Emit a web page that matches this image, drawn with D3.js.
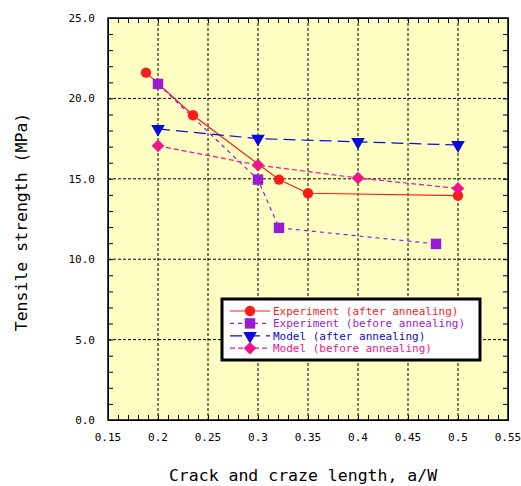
<!DOCTYPE html>
<html><head><meta charset="utf-8">
<script src="https://cdn.jsdelivr.net/npm/d3@7"></script>
<style>body{margin:0;background:#fff}svg{display:block}</style>
</head><body>
<svg id="c" width="521" height="486"></svg>
<script>
const expAfterX = [0.188, 0.235, 0.321, 0.35, 0.5];
const expAfterY = [21.6, 18.95, 14.95, 14.1, 13.95];
const expBeforeX = [0.2, 0.3, 0.321, 0.478];
const expBeforeY = [20.9, 14.95, 11.95, 10.95];
const modAfterX = [0.2, 0.3, 0.4, 0.5];
const modAfterY = [18.1, 17.5, 17.3, 17.1];
const modBeforeX = [0.2, 0.3, 0.4, 0.5];
const modBeforeY = [17.05, 15.85, 15.05, 14.4];
const seriesNames = ["Experiment (after annealing)", "Experiment (before annealing)", "Model (after annealing)", "Model (before annealing)"];
const xTicks = [0.15, 0.2, 0.25, 0.3, 0.35, 0.4, 0.45, 0.5, 0.55];
const yTicks = [0, 5, 10, 15, 20, 25];
const xTitle = "Crack and craze length, a/W";
const yTitle = "Tensile strength (MPa)";

const svg = d3.select("#c");
const L = 108, R = 508, T = 18, B = 420;
const x = d3.scaleLinear().domain([0.15, 0.55]).range([L, R]);
const y = d3.scaleLinear().domain([0, 25]).range([B, T]);
const font = "'DejaVu Sans Mono', 'Liberation Mono', monospace";

svg.append("rect").attr("x", L).attr("y", T).attr("width", R - L).attr("height", B - T).attr("fill", "#FFFFC4");

// grid
const g = svg.append("g");
xTicks.slice(1, -1).forEach(v => g.append("line").attr("x1", x(v)).attr("x2", x(v)).attr("y1", T).attr("y2", B)
  .attr("stroke", "#000").attr("stroke-width", 1).attr("stroke-dasharray", "3,2"));
yTicks.slice(1, -1).forEach(v => g.append("line").attr("y1", y(v)).attr("y2", y(v)).attr("x1", L).attr("x2", R)
  .attr("stroke", "#000").attr("stroke-width", 1).attr("stroke-dasharray", "3,2"));

// axes with inward minor ticks
const xMinor = d3.range(0.15, 0.5501, 0.01);
const yMinor = d3.range(0, 25.01, 1);
svg.append("g").attr("transform", `translate(0,${B})`)
  .call(d3.axisBottom(x).tickValues(xMinor).tickSize(-5).tickFormat(""))
  .call(a => a.selectAll("path,line").attr("stroke", "#000"));
svg.append("g").attr("transform", `translate(0,${T})`)
  .call(d3.axisTop(x).tickValues(xMinor).tickSize(-5).tickFormat(""))
  .call(a => a.selectAll("path,line").attr("stroke", "#000"));
svg.append("g").attr("transform", `translate(${L},0)`)
  .call(d3.axisLeft(y).tickValues(yMinor).tickSize(-5).tickFormat(""))
  .call(a => a.selectAll("path,line").attr("stroke", "#000"));
svg.append("g").attr("transform", `translate(${R},0)`)
  .call(d3.axisRight(y).tickValues(yMinor).tickSize(-5).tickFormat(""))
  .call(a => a.selectAll("path,line").attr("stroke", "#000"));

svg.append("rect").attr("x", L).attr("y", T).attr("width", R - L).attr("height", B - T)
  .attr("fill", "none").attr("stroke", "#000").attr("stroke-width", 1.5);

// tick labels
svg.append("g").selectAll("text").data(xTicks).join("text")
  .attr("x", d => x(d)).attr("y", B + 21).attr("text-anchor", "middle")
  .attr("font-family", font).attr("font-size", 11).text(d => d3.format("")(d));
svg.append("g").selectAll("text").data(yTicks).join("text")
  .attr("x", L - 13).attr("y", d => y(d) + 4).attr("text-anchor", "end")
  .attr("font-family", font).attr("font-size", 11).text(d => d.toFixed(1));

svg.append("text").attr("x", 303).attr("y", 481).attr("text-anchor", "middle")
  .attr("font-family", font).attr("font-size", 16.5).text(xTitle);
svg.append("text").attr("transform", "translate(27,222) rotate(-90)").attr("text-anchor", "middle")
  .attr("font-family", font).attr("font-size", 16.5).text(yTitle);

const series = [
  {xs: expAfterX, ys: expAfterY, color: "#FF1A1A", dash: null, sym: d3.symbolCircle, size: 85, rot: 0},
  {xs: expBeforeX, ys: expBeforeY, color: "#9B1AD6", dash: "4,4", sym: d3.symbolSquare, size: 110, rot: 0},
  {xs: modAfterX, ys: modAfterY, color: "#0A0ADC", dash: "12,6", sym: d3.symbolTriangle, size: 80, rot: 180},
  {xs: modBeforeX, ys: modBeforeY, color: "#F0148C", dash: "5,3", sym: d3.symbolSquare, size: 80, rot: 45}
];
const line = d3.line().x(d => x(d[0])).y(d => y(d[1]));
series.forEach((s, i) => {
  const pts = s.xs.map((v, j) => [v, s.ys[j]]);
  svg.append("path").attr("d", line(pts)).attr("fill", "none").attr("stroke", s.color)
    .attr("stroke-width", 1.2).attr("stroke-dasharray", s.dash);
});
const symPath = (s) => d3.symbol().type(s.sym).size(s.size)();
series.forEach(s => {
  const pts = s.xs.map((v, j) => [v, s.ys[j]]);
  svg.append("g").selectAll("path").data(pts).join("path")
    .attr("d", symPath(s)).attr("fill", s.color)
    .attr("transform", d => `translate(${x(d[0])},${y(d[1])}) rotate(${s.rot})`);
});

// legend
const lg = svg.append("g");
lg.append("rect").attr("x", 222).attr("y", 299).attr("width", 258).attr("height", 61)
  .attr("fill", "#fff").attr("stroke", "#000").attr("stroke-width", 3);
series.forEach((s, i) => {
  const yy = 311 + i * 12.4;
  lg.append("line").attr("x1", 230).attr("x2", 270).attr("y1", yy).attr("y2", yy)
    .attr("stroke", s.color).attr("stroke-width", 1.2).attr("stroke-dasharray", s.dash);
  lg.append("path").attr("d", symPath(s)).attr("fill", s.color)
    .attr("transform", `translate(250,${yy}) rotate(${s.rot})`);
  lg.append("text").attr("x", 273).attr("y", yy + 4).attr("font-family", font).attr("font-size", 11)
    .attr("fill", s.color).text(seriesNames[i]);
});
</script>
</body></html>
